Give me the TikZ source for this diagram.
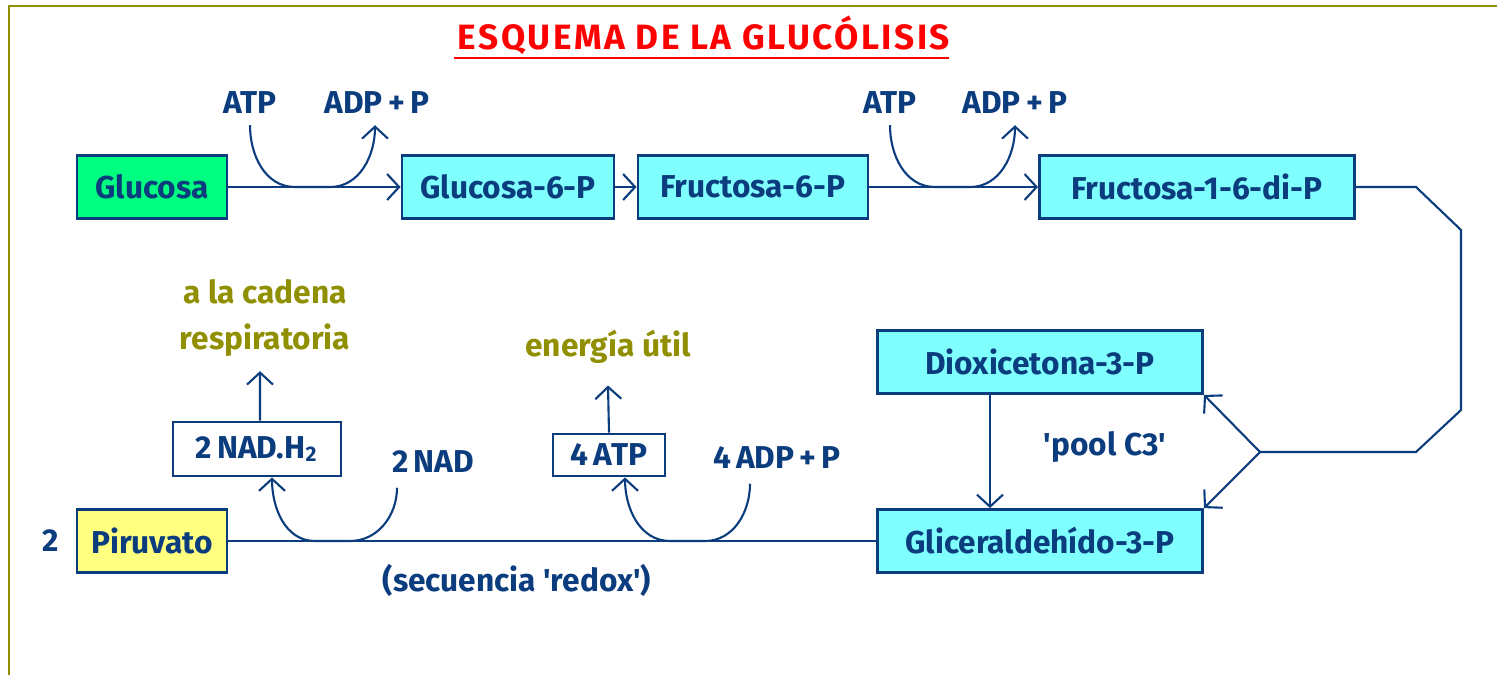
\documentclass[tikz,border=0pt]{standalone}
\usepackage{fontspec}
\setmainfont{Fira Sans}[Ligatures=TeXOff]
\usetikzlibrary{arrows.meta,positioning,calc}
\usepackage{xcolor}
\definecolor{navy}{HTML}{0B3D7E}
\definecolor{olive}{HTML}{8F8F00}
\definecolor{cyanfill}{HTML}{80FFFF}
\definecolor{greenfill}{HTML}{00FF80}
\definecolor{yellowfill}{HTML}{FFFF80}
\tikzset{
  box/.style={draw=navy, thick, align=center, fill=cyanfill, text=navy, font=\bfseries\fontsize{9}{11}\selectfont, minimum height=0.63cm, inner sep=1mm},
  greenbox/.style={box, fill=greenfill},
  yellowbox/.style={box, fill=yellowfill},
  outbox/.style={box, fill=white, minimum height=0.5cm},
  lbl/.style={text=navy, font=\bfseries\fontsize{9}{11}\selectfont, inner sep=1pt},
  note/.style={text=olive, font=\bfseries\fontsize{9}{13}\selectfont, align=center, inner sep=1pt},
  arrow/.style={-{Straight Barb[length=1.2mm,width=2.6mm]}, draw=navy, semithick},
  link/.style={draw=navy, semithick}
}

\begin{document}
\begin{tikzpicture}[x=0.01cm, y=-0.01cm]
  \useasboundingbox (0,0) rectangle (1497,675);
  \draw[olive, thick] (9,675) -- (9,6) -- (1497,6);
  \node[text=red, inner sep=0pt, font=\bfseries\fontsize{10}{12}\selectfont] (title) at (704,35) {\addfontfeatures{LetterSpace=7}ESQUEMA DE LA GLUCÓLISIS};
  \draw[red, thick] ([xshift=-1pt,yshift=-2.5pt]title.base west) -- ([xshift=-0.5pt,yshift=-2.5pt]title.base east);

  % top row
  \node[greenbox, minimum width=1.5cm] (glu) at (152,187) {Glucosa};
  \node[box, minimum width=2.12cm] (g6p) at (508,187) {Glucosa-6-P};
  \node[box, minimum width=2.3cm] (f6p) at (753,187) {Fructosa-6-P};
  \node[box, minimum width=3.15cm] (f16) at (1197,187) {Fructosa-1-6-di-P};
  \node[lbl] (atp1) at (250,103) {ATP};
  \node[lbl] (adp1) at (377,103) {ADP\,+\,P};
  \node[lbl] (atp2) at (890,103) {ATP};
  \node[lbl] (adp2) at (1015,103) {ADP\,+\,P};

  % pool C3
  \node[box, minimum width=3.25cm] (diox) at (1040,362) {Dioxicetona-3-P};
  \node[box, minimum width=3.25cm] (glic) at (1040,541) {Gliceraldehído-3-P};
  \node[lbl] (pool) at (1105,447) {'pool C3'};
  \coordinate (split) at (1260,452);

  % bottom row
  \node[yellowbox, minimum width=1.5cm] (piru) at (152,541) {Piruvato};
  \node[lbl, left=1.2mm of piru] (two) {2};
  \node[outbox, minimum width=1.68cm, minimum height=0.54cm] (nadh) at (257,449) {2\,NAD.H\textsubscript{2}};
  \node[outbox, minimum width=1.12cm, minimum height=0.41cm] (atp4) at (609,455) {4\,ATP};
  \node[lbl] (nad) at (433,462) {2\,NAD};
  \node[lbl] (adp4) at (777,458) {4\,ADP\,+\,P};
  \node[lbl] (redox) at (517,580) {(secuencia 'redox')};
  \node[note] (cadena) at (265,318) {a la cadena\\respiratoria};
  \node[note] (util) at (608,347) {energía útil};

  % connectors, top
  \draw[arrow] (glu) -- (g6p);
  \draw[arrow] (g6p) -- (f6p);
  \draw[arrow] (f6p) -- (f16);
  \draw[arrow] ([yshift=-2pt]atp1.south) to[out=-90, in=180] (295,187) -- (330,187) to[out=0, in=-90] ([xshift=-0.02cm,yshift=-2pt]adp1.south);
  \draw[arrow] ([yshift=-2pt]atp2.south) to[out=-90, in=180] (935,187) -- (970,187) to[out=0, in=-90] ([yshift=-2pt]adp2.south);

  % to the triose pool
  \draw[link] (f16.east) -- ++(60,0) -- ++(45,43) -- ++(0,180) -- ++(-45,42) -- (split);
  \draw[arrow] (split) -- (diox.south east);
  \draw[arrow] (split) -- (glic.north east);
  \draw[arrow] ([xshift=-0.5cm]diox.south) -- ([xshift=-0.5cm]glic.north);

  % redox sequence
  \draw[link] (glic.west) -- (piru.east);
  \draw[arrow] ([yshift=-3pt]adp4.south -| 750,0) to[out=-90, in=0] (705,541) -- (670,541) to[out=180, in=-90] ([xshift=0.16cm]atp4.south);
  \draw[arrow] ([yshift=-3pt]nad.south -| 397,0) to[out=-90, in=0] (350,541) -- (315,541) to[out=180, in=-90] ([xshift=0.15cm]nadh.south);
  \draw[arrow] ([xshift=0.03cm]nadh.north) -- ([xshift=-0.05cm,yshift=-3pt]cadena.south);
  \draw[arrow] (atp4.north) -- ([yshift=-5pt]util.south);
\end{tikzpicture}
\end{document}
